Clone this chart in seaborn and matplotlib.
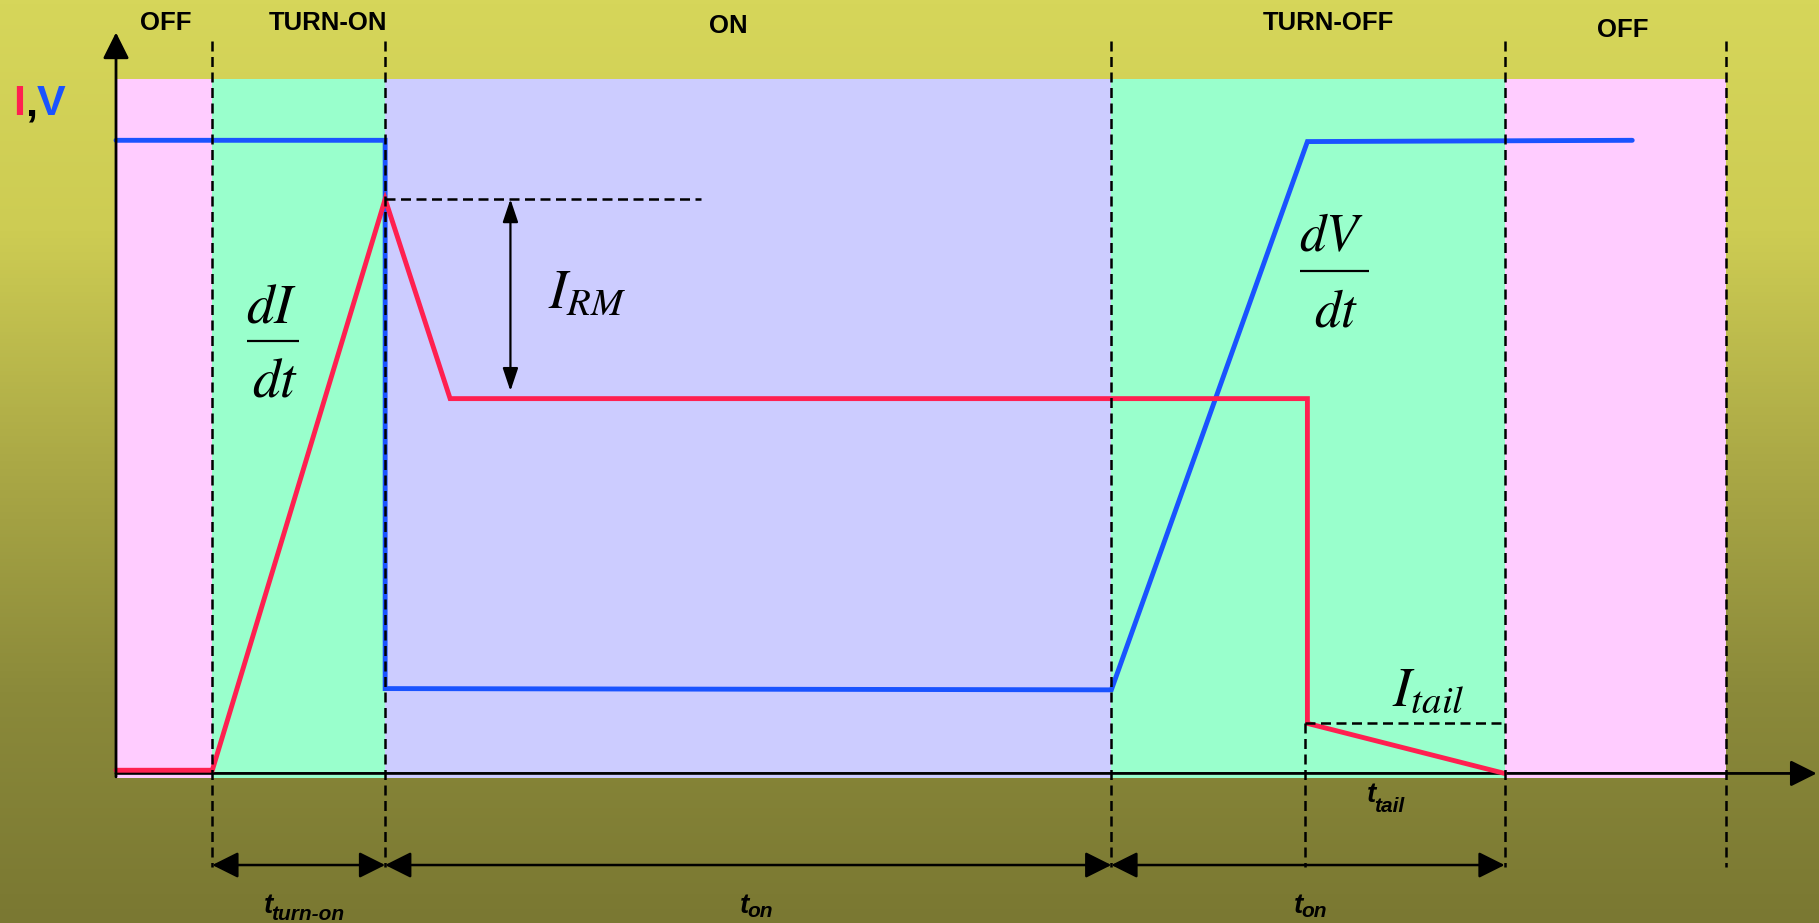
import numpy as np
import pandas as pd
import seaborn as sns
import matplotlib.pyplot as plt
from matplotlib.colors import LinearSegmentedColormap

sns.set_theme(style="white")
plt.rcParams['font.family'] = ['Liberation Sans', 'DejaVu Sans']
plt.rcParams['mathtext.fontset'] = 'stix'
plt.rcParams['text.color'] = 'black'

# switching phases (time units) and their colours
phase_edges = [0, 8.3, 23.2, 85.8, 119.7, 138.8]
phase_names = ["OFF", "TURN-ON", "ON", "TURN-OFF", "OFF"]
phase_colors = ["#FFCCFF", "#99FFCC", "#CCCCFF", "#99FFCC", "#FFCCFF"]

# voltage waveform
v_time = [0, 23.2, 23.2, 85.8, 102.7, 130.7]
v_level = [10.0, 10.0, 1.34, 1.32, 9.98, 10.0]

# current waveform
i_time = [0, 8.3, 23.2, 28.8, 102.7, 102.7, 119.7]
i_level = [0.05, 0.05, 9.07, 5.92, 5.92, 0.79, 0.0]

i_peak = 9.07
i_plateau = 6.04
i_tail = 0.79
t_tail_start = 102.5

RED = "#FF2050"
BLUE = "#1A53FF"


# layout helpers: reference pixel (on 1568x796 grid) -> data units
def X(px):
    return (px - 100) / 10.0


def Y(py):
    return (667 - py) / 54.6


fig = plt.figure(figsize=(18.19, 9.23), dpi=100)
ax = fig.add_axes([0, 0, 1, 1])
xmin, xmax, ymin, ymax = X(0), X(1568), Y(796), Y(0)

# background gradient
bg = LinearSegmentedColormap.from_list(
    "bg", ["#D6D65A", "#CDCC53", "#ABA946", "#8B8A3A", "#7A7832"])
grad = np.linspace(0, 1, 256).reshape(-1, 1)
ax.imshow(grad, cmap=bg, extent=[xmin, xmax, ymin, ymax], aspect="auto",
          origin="upper", zorder=0)

# phase regions
for a, b, c in zip(phase_edges[:-1], phase_edges[1:], phase_colors):
    ax.fill_between([a, b], Y(671), Y(68), color=c, lw=0, zorder=1)

# waveforms
df_v = pd.DataFrame({"t": v_time, "val": v_level})
df_i = pd.DataFrame({"t": i_time, "val": i_level})
sns.lineplot(data=df_v, x="t", y="val", sort=False, estimator=None, ax=ax,
             color=BLUE, lw=3.5, zorder=3, solid_joinstyle="miter")
sns.lineplot(data=df_i, x="t", y="val", sort=False, estimator=None, ax=ax,
             color=RED, lw=3.5, zorder=4, solid_joinstyle="miter")

# dashed guide lines
dash = dict(color="black", lw=1.8, ls=(0, (4, 2.2)), zorder=5)
for e in phase_edges[1:]:
    ax.plot([e, e], [Y(35), Y(748)], **dash)
ax.plot([t_tail_start, t_tail_start], [i_tail, Y(748)], **dash)
ax.plot([phase_edges[2], X(604)], [i_peak, i_peak], **dash)
ax.plot([t_tail_start, phase_edges[4]], [i_tail, i_tail], **dash)

# axes arrows
axis_arrow = dict(arrowstyle="-|>,head_length=16,head_width=8", color="black",
                  lw=2.0, mutation_scale=1, shrinkA=0, shrinkB=0)
ax.annotate("", xy=(0, Y(28)), xytext=(0, Y(670)), arrowprops=axis_arrow, zorder=6)
ax.annotate("", xy=(X(1566), 0), xytext=(0, 0), arrowprops=axis_arrow, zorder=2)

# I_RM arrow
ax.annotate("", xy=(X(440), i_peak), xytext=(X(440), i_plateau),
            arrowprops=dict(arrowstyle="<|-|>,head_length=14,head_width=4.7",
                            color="black", lw=1.6, mutation_scale=1,
                            shrinkA=0, shrinkB=0))

# dimension arrows
dim = dict(arrowstyle="<|-|>,head_length=16,head_width=8", color="black",
           lw=1.8, mutation_scale=1, shrinkA=0, shrinkB=0)
for a, b in [(phase_edges[1], phase_edges[2]),
             (phase_edges[2], phase_edges[3]),
             (phase_edges[3], phase_edges[4])]:
    ax.annotate("", xy=(b, Y(746)), xytext=(a, Y(746)), arrowprops=dim, zorder=6)

# phase labels
label_x = [143, 283, 628, 1145, 1399]
label_y = [20, 20, 22, 20, 26]
for name, lx, ly in zip(phase_names, label_x, label_y):
    ax.text(X(lx), Y(ly), name, fontsize=18.5, weight="bold", ha="center",
            va="center", color="black")

# I,V axis label
t1 = ax.text(X(11), Y(90), "I", fontsize=31, weight="bold", color=RED,
             ha="left", va="center")
t2 = ax.annotate(",", xy=(1, 0), xycoords=t1, fontsize=31, weight="bold",
                 color="black", ha="left", va="bottom")
ax.annotate("V", xy=(1, 0), xycoords=t2, fontsize=31, weight="bold",
            color=BLUE, ha="left", va="bottom")


# fractions drawn as numerator / bar / denominator
def fraction(num, cx_num, cx_den, y_num, y_bar, y_den, x0, x1, size):
    ax.text(X(cx_num), Y(y_num), num, fontsize=size, ha="center",
            va="baseline", color="black")
    ax.plot([X(x0), X(x1)], [Y(y_bar), Y(y_bar)], color="black", lw=1.6,
            solid_capstyle="butt", zorder=6)
    ax.text(X(cx_den), Y(y_den), r"$dt$", fontsize=size, ha="center",
            va="baseline", color="black")


fraction(r"$dI$", 234, 237, 278, 294, 342, 213, 258, 40)
fraction(r"$dV$", 1148, 1152, 217, 233.6, 282, 1121, 1180, 38)

ax.text(X(472), Y(266), r"$I_{RM}$", fontsize=40, ha="left", va="baseline",
        color="black")
ax.text(X(1200), Y(608), r"$I_{tail}$", fontsize=40, ha="left", va="baseline",
        color="black")

# time labels
for tx, ty, sy, sub in [(227, 787, 793, "turn-on"),
                        (638, 787, 791, "on"),
                        (1115, 787, 791, "on"),
                        (1178, 692, 700, "tail")]:
    ax.text(X(tx), Y(ty), "t", fontsize=20, weight="bold", style="italic",
            ha="left", va="baseline", color="black")
    ax.text(X(tx + 6.5), Y(sy), sub, fontsize=15, weight="bold", style="italic",
            ha="left", va="baseline", color="black")

ax.set_xlim(xmin, xmax)
ax.set_ylim(ymin, ymax)
ax.axis("off")

fig.savefig("out.png", dpi=100)
